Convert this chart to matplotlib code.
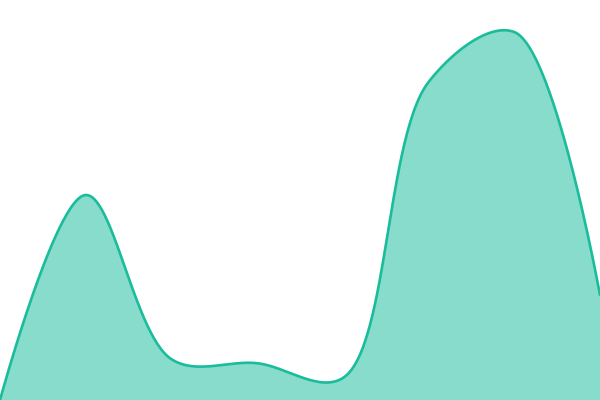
import matplotlib
matplotlib.use('Agg')
import matplotlib.pyplot as plt
import numpy as np

# values (0-100 scale), evenly spaced points
values = [0, 51.25, 10.2, 9.2, 5.5, 79.5, 92, 26.25]
line_color = '#1abc9c'


def catmull_rom(pts, alpha=0.5, n=60):
    # centripetal catmull-rom, same as d3 curveCatmullRom (works in pixel coords)
    eps = 1e-12
    p = np.vstack([pts[0], pts, pts[-1]])
    t = np.linspace(0, 1, n)
    out = []
    for i in range(1, len(p) - 2):
        p0, p1, p2, p3 = p[i - 1], p[i], p[i + 1], p[i + 2]
        l01 = np.hypot(*(p1 - p0)); l12 = np.hypot(*(p2 - p1)); l23 = np.hypot(*(p3 - p2))
        l01_a, l12_a, l23_a = l01**alpha, l12**alpha, l23**alpha
        l01_2a, l12_2a, l23_2a = l01**(2*alpha), l12**(2*alpha), l23**(2*alpha)
        c1 = p1.copy()
        c2 = p2.copy()
        if l01_a > eps:
            a = 2*l01_2a + 3*l01_a*l12_a + l12_2a
            nn = 3*l01_a*(l01_a + l12_a)
            c1 = (p1*a - p0*l12_2a + p2*l01_2a) / nn
        if l23_a > eps:
            b = 2*l23_2a + 3*l23_a*l12_a + l12_2a
            m = 3*l23_a*(l23_a + l12_a)
            c2 = (p2*b + p1*l23_2a - p3*l12_2a) / m
        tt = t[:, None]
        seg = (1-tt)**3*p1 + 3*(1-tt)**2*tt*c1 + 3*(1-tt)*tt**2*c2 + tt**3*p2
        out.append(seg)
    return np.vstack(out)


fig = plt.figure(figsize=(6, 4), dpi=100)
ax = fig.add_axes([0, 0, 1, 1])
ax.set_xlim(0, len(values) - 1)
ax.set_ylim(0, 100)
ax.axis('off')

xs = np.arange(len(values), dtype=float)
pix = ax.transData.transform(np.column_stack([xs, values]))
curve = ax.transData.inverted().transform(catmull_rom(pix))
cx, cy = curve[:, 0], curve[:, 1]

ax.fill_between(cx, 0, cy, color=line_color, alpha=0.52, linewidth=0)
ax.plot(cx, cy, color=line_color, linewidth=1.9, solid_capstyle='round')
plt.savefig('out.png', dpi=100)
